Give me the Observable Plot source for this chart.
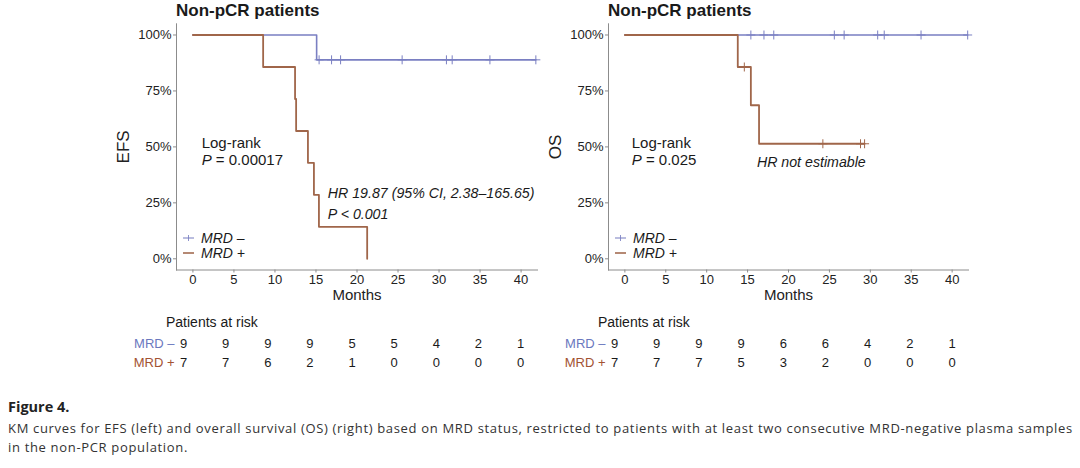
<!DOCTYPE html>
<html><head><meta charset="utf-8">
<script src="https://cdn.jsdelivr.net/npm/d3@7"></script>
<script src="https://cdn.jsdelivr.net/npm/@observablehq/plot@0.6"></script>
<style>
body{margin:0;background:#fff}
#wrap{position:relative;width:1080px;height:468px;overflow:hidden;background:#fff;font-family:"Liberation Sans",Arial,sans-serif;color:#222}
#wrap > *{position:absolute}
.title{font-size:17px;font-weight:bold;line-height:20px;color:#1a1a1a;white-space:nowrap}
.risk{font-size:14px;line-height:18px;color:#1a1a1a;white-space:nowrap}
.leg{font-size:14px;font-style:italic;line-height:14.5px;height:14.5px;white-space:nowrap;color:#1a1a1a}
.leg span{display:inline-block;height:14.5px;line-height:14.5px;vertical-align:top}
.leg svg{vertical-align:top;margin-top:2px;margin-right:7px}
.fig{font-family:"Open Sans",sans-serif;font-size:14.5px;font-weight:bold;line-height:18px;color:#222;white-space:nowrap}
.cap{font-family:"Open Sans",sans-serif;font-size:13px;letter-spacing:0.67px;line-height:18px;color:#333;white-space:nowrap}
</style></head><body><div id="wrap"></div><script>
// ---------- data ----------
const months = [0, 5, 10, 15, 20, 25, 30, 35, 40];
const groups = ["MRD –", "MRD +"];
const yTicks = [0, 0.25, 0.5, 0.75, 1];

// EFS curves (time in months, survival probability)
const efsNegTime = [0, 15.08, 41.8];
const efsNegSurv = [1, 0.889, 0.889];
const efsNegCensor = [15.38, 16.9, 18.0, 25.5, 30.9, 31.6, 36.2, 41.8];
const efsPosTime = [0, 8.56, 12.45, 12.58, 14.02, 14.75, 15.36, 21.24];
const efsPosSurv = [1, 0.857, 0.714, 0.571, 0.429, 0.286, 0.143, 0];
const efsPosCensor = [];

// OS curves
const osNegTime = [0, 41.9];
const osNegSurv = [1, 1];
const osNegCensor = [15.4, 17.0, 18.2, 25.6, 26.8, 30.9, 31.7, 36.2, 41.9];
const osPosTime = [0, 13.8, 15.4, 16.4, 29.3];
const osPosSurv = [1, 0.857, 0.686, 0.514, 0.514];
const osPosCensor = [14.6, 24.2, 28.8, 29.3];

// patients at risk
const efsRiskNeg = [9, 9, 9, 9, 5, 5, 4, 2, 1];
const efsRiskPos = [7, 7, 6, 2, 1, 0, 0, 0, 0];
const osRiskNeg = [9, 9, 9, 9, 6, 6, 4, 2, 1];
const osRiskPos = [7, 7, 7, 5, 3, 2, 0, 0, 0];

// ---------- style ----------
const BLUE = "#7a7fc2", BROWN = "#a0664a", AXIS = "#8c8c8c";
const LBL_BLUE = "#6a78be", LBL_BROWN = "#a35232";
const FONT = "Liberation Sans, Arial, sans-serif";

const wrap = d3.select("#wrap");

function curveRows(t, s) { return t.map((x, i) => ({x, y: s[i]})); }
function censorRows(t, s, c) {
  return c.map(x => { let k = 0; for (let i = 0; i < t.length; i++) if (t[i] <= x) k = i; return {x, y: s[k]}; });
}

function panel(o) {
  const chart = Plot.plot({
    width: 540, height: 305,
    marginLeft: o.ml, marginRight: o.mr, marginTop: 23.3, marginBottom: 35.5,
    x: {domain: [-2, 42]}, y: {domain: [-0.05, 1.05]},
    style: {fontFamily: FONT, background: "transparent", overflow: "visible"},
    marks: [
      Plot.frame({anchor: "left", stroke: AXIS}),
      Plot.frame({anchor: "bottom", stroke: AXIS}),
      Plot.axisX({ticks: months, tickSize: 3, tickPadding: 2, stroke: AXIS, fill: "#222", fontSize: 13, label: null}),
      Plot.axisY({ticks: yTicks, tickFormat: d3.format(".0%"), tickSize: 3, tickPadding: 2, stroke: AXIS, fill: "#222", fontSize: 13, label: null}),
      Plot.text(["Months"], {frameAnchor: "bottom", dy: 29.5, fontSize: 15, fill: "#222"}),
      Plot.text([o.ylab], {frameAnchor: "left", dx: -53, rotate: -90, textAnchor: "middle", lineAnchor: "middle", fontSize: 17, fill: "#222"}),
      Plot.line(curveRows(o.negT, o.negS), {x: "x", y: "y", curve: "step-after", stroke: BLUE, strokeWidth: 1.6}),
      Plot.dot(censorRows(o.negT, o.negS, o.negC), {x: "x", y: "y", symbol: "plus", r: 3, stroke: BLUE, strokeWidth: 1}),
      Plot.line(curveRows(o.posT, o.posS), {x: "x", y: "y", curve: "step-after", stroke: BROWN, strokeWidth: 1.8}),
      Plot.dot(censorRows(o.posT, o.posS, o.posC), {x: "x", y: "y", symbol: "plus", r: 3, stroke: BROWN, strokeWidth: 1})
    ]
  });
  const sx = chart.scale("x"), sy = chart.scale("y");
  const svg = d3.select(chart);
  const g = svg.append("g").attr("font-family", FONT).attr("fill", "#1a1a1a").attr("text-anchor", "start");
  for (const a of o.ann) {
    const t = g.append("text").attr("x", sx.apply(a.x)).attr("y", sy.apply(a.y))
      .attr("dy", "0.35em").attr("font-size", a.size).attr("text-anchor", "start");
    for (const [str, it] of a.parts) t.append("tspan").attr("font-style", it ? "italic" : null).text(str);
  }
  wrap.append(() => chart).style("left", o.left + "px").style("top", "0px");
}

function riskTable(o) {
  const rows = months.flatMap((m, i) => [{m, g: groups[0], n: o.neg[i]}, {m, g: groups[1], n: o.pos[i]}]);
  const colorOf = {[groups[0]]: LBL_BLUE, [groups[1]]: LBL_BROWN};
  const chart = Plot.plot({
    width: 540, height: 45, marginLeft: o.ml, marginRight: o.mr, marginTop: 12.7, marginBottom: 12.7,
    x: {domain: [0, 40], axis: null},
    y: {type: "point", domain: groups, padding: 0},
    style: {fontFamily: FONT, background: "transparent", overflow: "visible"},
    marks: [
      Plot.axisY({tickSize: 0, tickPadding: 9, fontSize: 13, fill: d => colorOf[d], label: null}),
      Plot.text(rows, {x: "m", y: "g", text: "n", fontSize: 13, fill: "#1a1a1a"})
    ]
  });
  wrap.append(() => chart).style("left", o.left + "px").style("top", "330px");
}

function legend(left) {
  const div = wrap.append("div").style("left", left + "px").style("top", "231px");
  [[groups[0], BLUE, true], [groups[1], BROWN, false]].forEach(([lab, c, plus]) => {
    const row = div.append("div").attr("class", "leg");
    const s = row.append("svg").attr("width", 11).attr("height", 10);
    s.append("line").attr("x1", 0).attr("x2", 11).attr("y1", 5).attr("y2", 5).attr("stroke", c).attr("stroke-width", plus ? 1.2 : 1.8).attr("opacity", 0.85);
    if (plus) s.append("line").attr("x1", 5.5).attr("x2", 5.5).attr("y1", 2).attr("y2", 8).attr("stroke", c).attr("stroke-width", 1).attr("opacity", 0.85);
    row.append("span").text(lab);
  });
}

// ---------- build ----------
wrap.append("div").attr("class", "title").style("left", "176px").style("top", "1px").text("Non-pCR patients");
wrap.append("div").attr("class", "title").style("left", "608px").style("top", "1px").text("Non-pCR patients");

panel({left: 0, ml: 176, mr: 3, ylab: "EFS",
  negT: efsNegTime, negS: efsNegSurv, negC: efsNegCensor,
  posT: efsPosTime, posS: efsPosSurv, posC: efsPosCensor,
  ann: [
    {x: 1.13, y: 0.518, size: 15, parts: [["Log-rank", false]]},
    {x: 1.13, y: 0.439, size: 15, parts: [["P", true], [" = 0.00017", false]]},
    {x: 16.5, y: 0.29, size: 14.2, parts: [["HR 19.87 (95% CI, 2.38–165.65)", true]]},
    {x: 16.5, y: 0.198, size: 14.2, parts: [["P < 0.001", true]]}
  ]});

panel({left: 540, ml: 68, mr: 112, ylab: "OS",
  negT: osNegTime, negS: osNegSurv, negC: osNegCensor,
  posT: osPosTime, posS: osPosSurv, posC: osPosCensor,
  ann: [
    {x: 0.9, y: 0.515, size: 15, parts: [["Log-rank", false]]},
    {x: 0.9, y: 0.44, size: 15, parts: [["P", true], [" = 0.025", false]]},
    {x: 16.2, y: 0.432, size: 14.2, parts: [["HR not estimable", true]]}
  ]});

legend(183);
legend(615);

wrap.append("div").attr("class", "risk").style("left", "166px").style("top", "313px").text("Patients at risk");
wrap.append("div").attr("class", "risk").style("left", "598px").style("top", "313px").text("Patients at risk");
riskTable({left: 0, ml: 183, mr: 20, neg: efsRiskNeg, pos: efsRiskPos});
riskTable({left: 540, ml: 74, mr: 128.5, neg: osRiskNeg, pos: osRiskPos});

wrap.append("div").attr("class", "fig").style("left", "8px").style("top", "398px").text("Figure 4.");
wrap.append("div").attr("class", "cap").style("left", "8px").style("top", "419px")
  .text("KM curves for EFS (left) and overall survival (OS) (right) based on MRD status, restricted to patients with at least two consecutive MRD-negative plasma samples");
wrap.append("div").attr("class", "cap").style("left", "8px").style("top", "438px").text("in the non-PCR population.");
</script></body></html>
